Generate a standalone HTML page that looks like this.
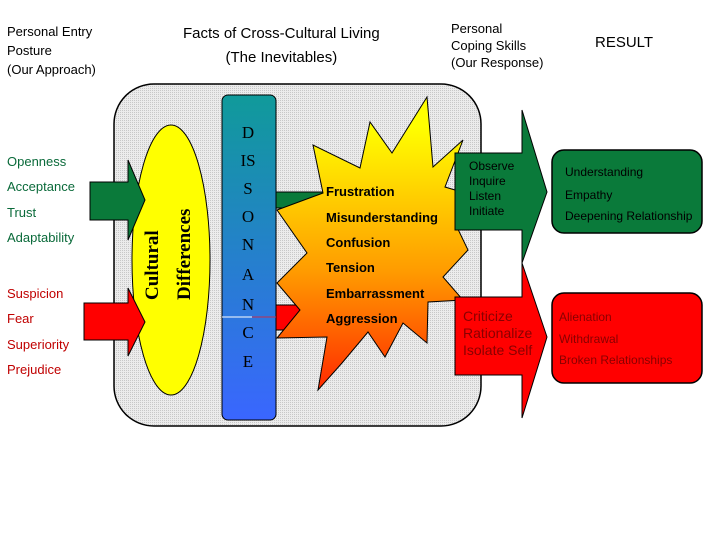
<!DOCTYPE html>
<html><head><style>
body{margin:0;width:720px;height:540px;background:#fff;position:relative;overflow:hidden;font-family:"Liberation Sans",sans-serif}
.t{position:absolute;font-size:13px;color:#000;white-space:nowrap}
</style></head><body>
<svg width="720" height="540" style="position:absolute;left:0;top:0">
<defs>
<linearGradient id="bar" x1="0" y1="0" x2="0" y2="1"><stop offset="0" stop-color="#109a9a"/><stop offset="1" stop-color="#3a66ff"/></linearGradient>
<linearGradient id="star" x1="0" y1="0" x2="0" y2="1"><stop offset="0.1" stop-color="#ffff00"/><stop offset="0.6" stop-color="#ff9a00"/><stop offset="1" stop-color="#ff2a00"/></linearGradient>
<pattern id="dots" width="2" height="2" patternUnits="userSpaceOnUse"><rect width="2" height="2" fill="#ececec"/><rect width="1" height="1" fill="#c8c8c8"/></pattern>
</defs>
<rect x="114" y="84" width="367" height="342" rx="40" fill="url(#dots)" stroke="#000" stroke-width="1.5"/>
<ellipse cx="171" cy="260" rx="39" ry="135" fill="#ffff00" stroke="#000"/>
<!-- left arrows -->
<polygon points="90,182 128,182 128,160 145,200 128,240 128,220 90,220" fill="#0a7a3a" stroke="#000"/>
<polygon points="84,303 128,303 128,288 145,322 128,356 128,340 84,340" fill="#f00" stroke="#000"/>
<!-- small arrows from bar -->
<polygon points="276,192 330,192 330,208 276,208" fill="#0a7a3a" stroke="#000"/>
<polygon points="276,305 310,305 310,330 276,330" fill="#f00" stroke="#000"/>
<!-- star -->
<polygon points="427,97 392,153 370,122 360,168 313,145 323,193 277,210 307,253 277,283 300,310 277,338 327,337 318,390 342,363 368,332 385,357 403,323 427,343 428,302 463,300 443,277 468,250 455,223 465,193 445,187 463,140 433,167" fill="url(#star)" stroke="#000"/>
<rect x="222" y="95" width="54" height="325" rx="6" fill="url(#bar)" stroke="#000"/>
<line x1="222" y1="317" x2="252" y2="317" stroke="#fff"/><line x1="252" y1="317" x2="276" y2="317" stroke="#c03050"/>
<!-- right arrows -->
<polygon points="455,153 522,153 522,110 547,192 522,263 522,230 455,230" fill="#0a7a3a" stroke="#000"/>
<polygon points="455,297 522,297 522,263 547,337 522,418 522,375 455,375" fill="#f00" stroke="#000"/>
<rect x="552" y="150" width="150" height="83" rx="12" fill="#0a7a3a" stroke="#000" stroke-width="1.5"/>
<rect x="552" y="293" width="150" height="90" rx="12" fill="#f00" stroke="#000" stroke-width="1.5"/>
<g font-family="Liberation Serif,serif" font-size="17" fill="#000" text-anchor="middle">
<text x="248" y="138">D</text><text x="248" y="166">IS</text><text x="248" y="194">S</text><text x="248" y="222">O</text><text x="248" y="250">N</text><text x="248" y="280">A</text><text x="248" y="310">N</text><text x="248" y="338">C</text><text x="248" y="367">E</text>
</g>
<g font-family="Liberation Serif,serif" font-size="19" font-weight="bold" fill="#000">
<text transform="translate(158,300) rotate(-90)">Cultural</text>
<text transform="translate(190,300) rotate(-90)">Differences</text>
</g>
<g font-size="13" font-weight="bold" fill="#000">
<text x="326" y="196">Frustration</text><text x="326" y="222">Misunderstanding</text><text x="326" y="247">Confusion</text><text x="326" y="272">Tension</text><text x="326" y="298">Embarrassment</text><text x="326" y="323">Aggression</text>
</g>
</svg>
<div class="t" style="left:7px;top:22px;line-height:19px">Personal Entry<br>Posture<br>(Our Approach)</div>
<div class="t" style="left:183px;top:22px;font-size:15px;line-height:24px;text-align:center">Facts of Cross-Cultural Living<br>(The Inevitables)</div>
<div class="t" style="left:451px;top:20px;line-height:17px">Personal<br>Coping Skills<br>(Our Response)</div>
<div class="t" style="left:595px;top:34px;font-size:15px">RESULT</div>
<div class="t" style="left:7px;top:154px;color:#0a6a3a">Openness</div>
<div class="t" style="left:7px;top:179px;color:#0a6a3a">Acceptance</div>
<div class="t" style="left:7px;top:205px;color:#0a6a3a">Trust</div>
<div class="t" style="left:7px;top:230px;color:#0a6a3a">Adaptability</div>
<div class="t" style="left:7px;top:286px;color:#c00000">Suspicion</div>
<div class="t" style="left:7px;top:311px;color:#c00000">Fear</div>
<div class="t" style="left:7px;top:337px;color:#c00000">Superiority</div>
<div class="t" style="left:7px;top:362px;color:#c00000">Prejudice</div>
<div class="t" style="left:469px;top:159px;font-size:12px;line-height:15px;color:#000">Observe<br>Inquire<br>Listen<br>Initiate</div>
<div class="t" style="left:463px;top:308px;font-size:14px;line-height:17px;color:#800">Criticize<br>Rationalize<br>Isolate Self</div>
<div class="t" style="left:565px;top:165px;font-size:12px;color:#000">Understanding</div>
<div class="t" style="left:565px;top:188px;font-size:12px;color:#000">Empathy</div>
<div class="t" style="left:565px;top:209px;font-size:12px;color:#000">Deepening Relationship</div>
<div class="t" style="left:559px;top:310px;font-size:12px;color:#800">Alienation</div>
<div class="t" style="left:559px;top:332px;font-size:12px;color:#800">Withdrawal</div>
<div class="t" style="left:559px;top:353px;font-size:12px;color:#800">Broken Relationships</div>
</body></html>
